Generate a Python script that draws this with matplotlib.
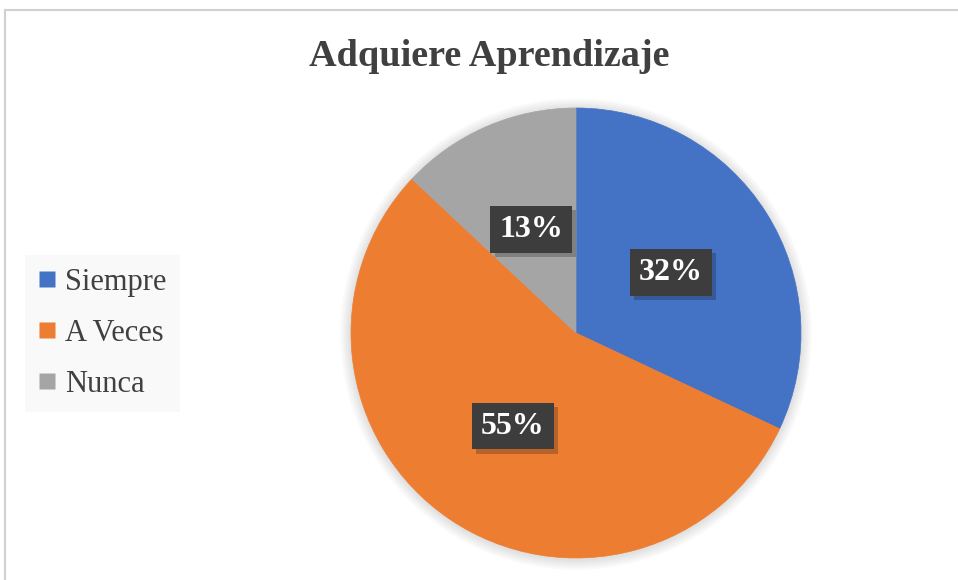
import matplotlib.pyplot as plt
from matplotlib.patches import Rectangle, Circle
from matplotlib.lines import Line2D
import matplotlib.patheffects as pe

# Data
labels = ['Siempre', 'A Veces', 'Nunca']
values = [32, 55, 13]
colors = ['#4472C4', '#ED7D31', '#A5A5A5']
title = 'Adquiere Aprendizaje'

plt.rcParams['font.family'] = ['Liberation Serif', 'DejaVu Serif']

W, H = 958, 580
fig = plt.figure(figsize=(W / 100, H / 100), dpi=100)

# light border of the chart area
fig.patches.append(Rectangle((5 / W, -0.05), 1.1, (H - 10) / H + 0.05, transform=fig.transFigure,
                             fill=False, edgecolor='#d0d0d0', linewidth=1.5))

fig.text(489 / W, 1 - 56 / H, title, ha='center', va='center',
         fontsize=27.5, fontweight='bold', color='#404040')

# pie axes: centre (576, 333), radius 225 px
cx, cy, r = 576, 333, 225
ax = fig.add_axes([(cx - r) / W, (H - cy - r) / H, 2 * r / W, 2 * r / H])
# soft shadow behind the pie
for k in range(6):
    ax.add_patch(Circle((0, -0.005), 1 + 0.008 * (k + 1), facecolor='black',
                        edgecolor='none', alpha=0.018, zorder=0, clip_on=False))
wedges, _, autotexts = ax.pie(values, colors=colors, startangle=90, counterclock=False,
                              autopct='%1.0f%%', pctdistance=0.5, radius=1)
for w, c in zip(wedges, colors):
    w.set_edgecolor(c)
    w.set_linewidth(0.5)
ax.set_xlim(-1, 1)
ax.set_ylim(-1, 1)
ax.set_aspect('equal')
ax.axis('off')

for t in autotexts:
    t.set_color('white')
    t.set_fontsize(23)
    t.set_fontweight('bold')
    t.set_bbox(dict(boxstyle='square,pad=0.28', facecolor='#3d3d3d', edgecolor='none'))
    t.get_bbox_patch().set_path_effects([pe.SimplePatchShadow(offset=(3, -3), alpha=0.25),
                                         pe.Normal()])

handles = [Line2D([], [], marker='s', linestyle='none', markersize=12,
                  markerfacecolor=c, markeredgecolor='none') for c in colors]
leg = fig.legend(handles, labels, loc='upper left',
                 bbox_to_anchor=(25 / W, 1 - 255 / H), fontsize=22,
                 frameon=True, facecolor='#f8f8f8', edgecolor='none', fancybox=False,
                 handlelength=0.6, handletextpad=0.3, labelspacing=0.72,
                 borderpad=0.42, borderaxespad=0)
for txt in leg.get_texts():
    txt.set_color('#404040')

fig.savefig('out.png', dpi=100)
